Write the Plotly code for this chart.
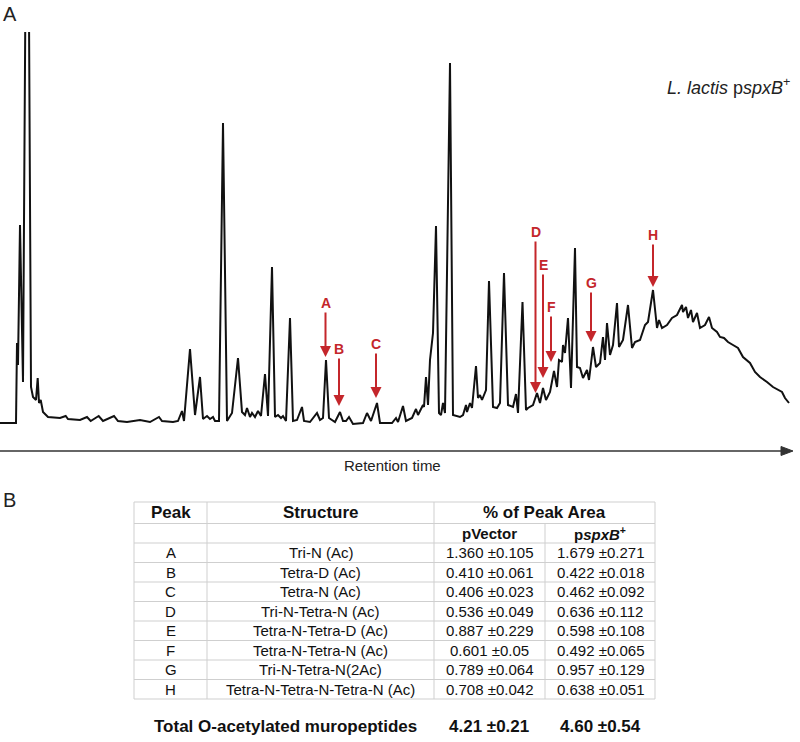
import plotly.graph_objects as go

# ---------------- data ----------------
# chromatogram (retention in arbitrary units, detector signal in arbitrary units)
retention = [0, 16, 17, 18, 20, 23, 27.3, 31, 33, 36, 37.7, 39, 40.7, 43, 48, 60, 65.7, 68, 80, 87, 90.7,
             98.7, 103, 114, 118, 127, 140, 150, 159, 162, 173, 178, 182, 184, 190, 195, 200, 203, 207,
             210, 213, 215, 219, 223, 227, 232, 238, 242, 245, 247, 250, 252, 255, 258, 261, 265, 268,
             272, 275, 278, 281, 283, 286, 290, 293, 297, 302, 304, 310, 317, 320, 323, 326, 329, 335,
             340, 343, 346, 349, 353, 363, 367, 371, 377, 380, 392, 396, 398, 403, 406, 412, 416, 418,
             423, 424, 426, 428, 430, 433, 436, 439, 441, 443, 445, 450, 453, 460, 463, 466, 467, 470,
             472, 476, 478, 480, 482, 486, 489, 493, 497, 500, 504, 508, 513, 516, 518, 522.5, 526, 528,
             533, 537, 540, 543, 546, 550, 554, 557, 559, 562, 563, 565, 568, 571, 575, 577, 580, 583,
             587, 589, 593, 596, 600, 603, 605, 607, 610, 613, 617, 619, 623, 628, 632, 635, 640, 645,
             648, 653, 657, 659, 662, 667, 672, 677, 682, 683, 686, 688, 691, 693, 697, 700, 705, 709,
             712, 717, 720, 724, 728, 733, 738, 743, 750, 755, 760, 767, 773, 782, 785, 789]
signal = [0, 0, 80, 58, 198, 41, 723, 36, 26, 23, 45, 20, 23, 11, 6, 5, 7, 4, 3, 6, 2,
          7, 2, 7, 2, 1, 3, 1, 6, 2, 1, 2, 12, 2, 74, 8, 46, 4, 7,
          4, 6, 2, 2, 300, 2, 10, 65, 11, 8, 15, 6, 10, 6, 12, 7, 49, 7,
          156, 6, 8, 5, 7, 2, 105, 2, 3, 16, 2, 1, 10, 3, 5, 63, 5, 1,
          11, 2, 2, 6, -1, 0, 10, 2, 20, 0, 0, 5, 1, 17, 2, 5, 14, 8,
          18, 16, 46, 18, 63, 90, 197, 10, 8, 20, 10, 360, 8, 6, 8, 18, 11, 20,
          15, 57, 25, 28, 23, 33, 142, 16, 15, 20, 150, 18, 16, 29, 10, 121, 13, 15,
          18, 30, 20, 35, 23, 31, 52, 36, 63, 61, 78, 70, 105, 35, 175, 56, 55, 45,
          53, 43, 76, 56, 60, 86, 63, 100, 68, 78, 120, 76, 83, 118, 75, 81, 83, 98,
          101, 133, 95, 103, 95, 98, 105, 108, 118, 111, 116, 105, 113, 101, 110, 95, 98, 106,
          95, 91, 86, 85, 81, 78, 75, 66, 60, 51, 46, 41, 36, 31, 25, 20]

peak_ids = ["A", "B", "C", "D", "E", "F", "G", "H"]
peak_retention = [325.5, 339, 376, 535.5, 543, 551, 591, 653]
structures = ["Tri-N (Ac)", "Tetra-D (Ac)", "Tetra-N (Ac)", "Tri-N-Tetra-N (Ac)",
              "Tetra-N-Tetra-D (Ac)", "Tetra-N-Tetra-N (Ac)", "Tri-N-Tetra-N(2Ac)",
              "Tetra-N-Tetra-N-Tetra-N (Ac)"]
pvector = ["1.360 ±0.105", "0.410 ±0.061", "0.406 ±0.023", "0.536 ±0.049",
           "0.887 ±0.229", "0.601 ±0.05", "0.789 ±0.064", "0.708 ±0.042"]
pspxb = ["1.679 ±0.271", "0.422 ±0.018", "0.462 ±0.092", "0.636 ±0.112",
         "0.598 ±0.108", "0.492 ±0.065", "0.957 ±0.129", "0.638 ±0.051"]
total_label = "Total O-acetylated muropeptides"
total_pvector = "4.21 ±0.21"
total_pspxb = "4.60 ±0.54"

# ---------------- layout helpers ----------------
W, H = 800, 742
FONT = "Liberation Sans, Arial, sans-serif"
RED = "#c4262b"
BASE_PX = 423          # pixel row of zero signal
Y_TOP_PX, Y_BOT_PX = 32, 430


def px(x):
    return x / W


def py(y):
    return 1 - y / H


fig = go.Figure()
fig.add_trace(go.Scatter(x=retention, y=signal, mode="lines",
                         line=dict(color="#111111", width=2), hoverinfo="skip"))

fig.update_layout(
    width=W, height=H, autosize=False,
    margin=dict(l=0, r=0, t=0, b=0, pad=0),
    paper_bgcolor="white", plot_bgcolor="white", showlegend=False,
    xaxis=dict(range=[0, W], domain=[0, 1], visible=False),
    yaxis=dict(range=[BASE_PX - Y_BOT_PX, BASE_PX - Y_TOP_PX],
               domain=[py(Y_BOT_PX), py(Y_TOP_PX)], visible=False),
)

ann = []
shapes = []
# peak arrows: (tip pixel row, label pixel row)
arrow_geom = {"A": (357, 303), "B": (406, 349), "C": (398, 344), "D": (393, 232),
              "E": (378, 265), "F": (362, 307), "G": (342, 283), "H": (287, 235)}
for pid, xr in zip(peak_ids, peak_retention):
    tip, lab = arrow_geom[pid]
    ann.append(dict(x=xr, y=BASE_PX - tip, xref="x", yref="y", text="<b>%s</b>" % pid,
                    showarrow=True, axref="pixel", ayref="pixel", ax=0, ay=lab - tip,
                    arrowhead=2, arrowsize=1.1, arrowwidth=2, arrowcolor=RED, standoff=0,
                    font=dict(family=FONT, size=14, color=RED)))

# panel labels and titles
ann.append(dict(x=px(10), y=py(14), xref="paper", yref="paper", text="A", showarrow=False,
                font=dict(family=FONT, size=20, color="#222"), xanchor="center", yanchor="middle"))
ann.append(dict(x=px(9), y=py(500), xref="paper", yref="paper", text="B", showarrow=False,
                font=dict(family=FONT, size=20, color="#222"), xanchor="center", yanchor="middle"))
ann.append(dict(x=px(792), y=py(87), xref="paper", yref="paper",
                text="<i>L. lactis</i> p<i>spxB</i><sup>+</sup>", showarrow=False,
                font=dict(family=FONT, size=18, color="#222"), xanchor="right", yanchor="middle"))

# retention time axis arrow (line + filled head)
shapes.append(dict(type="line", xref="paper", yref="paper", x0=0, x1=px(784),
                   y0=py(451), y1=py(451), line=dict(color="#333", width=1.5)))
shapes.append(dict(type="path", xref="paper", yref="paper",
                   path="M %f,%f L %f,%f L %f,%f Z" % (px(781), py(446.5), px(793), py(451),
                                                         px(781), py(455.5)),
                   fillcolor="#333", line=dict(color="#333", width=1)))
ann.append(dict(x=px(392), y=py(465), xref="paper", yref="paper", text="Retention time",
                showarrow=False, font=dict(family=FONT, size=15, color="#222"),
                xanchor="center", yanchor="middle"))

# ---------------- table ----------------
col_x = [134, 207, 434, 545, 655]
top, h1, h2 = 502, 523.5, 543
row_h = 19.5
rows_y = [h2 + row_h * i for i in range(len(peak_ids) + 1)]
bottom = rows_y[-1]
grid = "#cfcfcf"
for y in [top, h1] + rows_y:
    shapes.append(dict(type="line", xref="paper", yref="paper", x0=px(col_x[0]), x1=px(col_x[-1]),
                       y0=py(y), y1=py(y), line=dict(color=grid, width=1)))
for x in [col_x[0], col_x[1], col_x[2], col_x[4]]:
    shapes.append(dict(type="line", xref="paper", yref="paper", x0=px(x), x1=px(x),
                       y0=py(top), y1=py(bottom), line=dict(color=grid, width=1)))
shapes.append(dict(type="line", xref="paper", yref="paper", x0=px(col_x[3]), x1=px(col_x[3]),
                   y0=py(h1), y1=py(bottom), line=dict(color=grid, width=1)))

cc = [(col_x[i] + col_x[i + 1]) / 2 for i in range(4)]
TXT = "#111"


def cell(x, y, text, size=15, bold=False):
    t = "<b>%s</b>" % text if bold else text
    ann.append(dict(x=px(x), y=py(y), xref="paper", yref="paper", text=t, showarrow=False,
                    font=dict(family=FONT, size=size, color=TXT), xanchor="center", yanchor="middle"))


yh1 = (top + h1) / 2
yh2 = (h1 + h2) / 2
cell(cc[0], yh1, "Peak", 17, True)
cell(cc[1], yh1, "Structure", 17, True)
cell((col_x[2] + col_x[4]) / 2, yh1, "% of Peak Area", 17, True)
cell(cc[2], yh2, "pVector", 15, True)
cell(cc[3], yh2, "p<i>spxB</i><sup>+</sup>", 15, True)
for i, pid in enumerate(peak_ids):
    yc = (rows_y[i] + rows_y[i + 1]) / 2
    cell(cc[0], yc, pid)
    cell(cc[1], yc, structures[i])
    cell(cc[2], yc, pvector[i])
    cell(cc[3], yc, pspxb[i])

y_tot = 726
cell(285, y_tot, total_label, 17, True)
cell(cc[2], y_tot, total_pvector, 17, True)
cell(cc[3], y_tot, total_pspxb, 17, True)

fig.update_layout(annotations=ann, shapes=shapes)
fig.write_html("out.html", config={"displayModeBar": False, "staticPlot": True},
               post_script="document.body.style.margin='0';document.body.style.padding='0';")
